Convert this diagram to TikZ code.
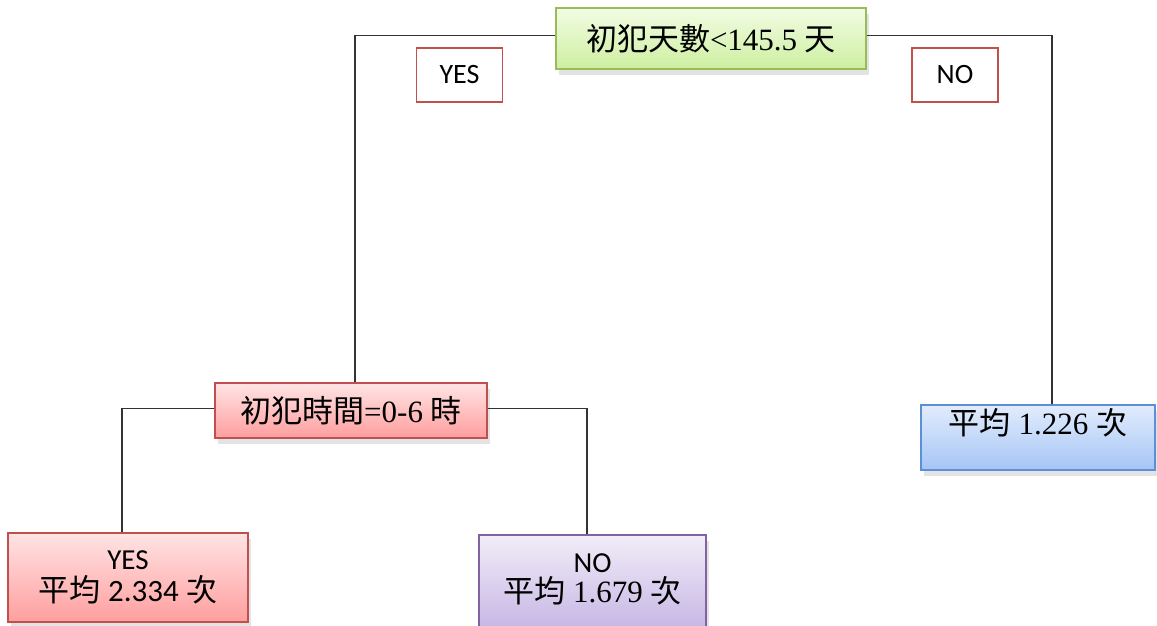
\documentclass[tikz,border=0pt]{standalone}
\usepackage{fontspec}
\setmainfont{Liberation Serif}
\newfontfamily\cjk{Noto Sans CJK TC}
\newfontfamily\calfont{Carlito}
\usetikzlibrary{shadows}
\definecolor{grnB}{HTML}{9BBB59}
\definecolor{grnT}{HTML}{F2FCE4}
\definecolor{grnL}{HTML}{CDEFA0}
\definecolor{redB}{HTML}{C0504D}
\definecolor{redT}{HTML}{FFE4E4}
\definecolor{redL}{HTML}{FF9E9E}
\definecolor{bluB}{HTML}{5B8FD6}
\definecolor{bluT}{HTML}{E2ECFC}
\definecolor{bluL}{HTML}{A5C5F6}
\definecolor{purB}{HTML}{8064A2}
\definecolor{purT}{HTML}{F1EDF8}
\definecolor{purL}{HTML}{C6B6E4}
\definecolor{lineC}{HTML}{333333}
\tikzset{
  box/.style={draw, line width=1.5pt, inner sep=0pt, align=center,
    font=\fontsize{31}{34}\selectfont,
    drop shadow={opacity=.22, shadow xshift=3pt, shadow yshift=-6pt}},
  grnbox/.style={box, draw=grnB, top color=grnT, bottom color=grnL},
  redbox/.style={box, draw=redB, top color=redT, bottom color=redL},
  blubox/.style={box, draw=bluB, top color=bluT, bottom color=bluL},
  purbox/.style={box, draw=purB, top color=purT, bottom color=purL},
  lbl/.style={draw=redB, line width=1.5pt, fill=white, inner sep=0pt,
    minimum width=86pt, minimum height=54pt,
    font=\calfont\fontsize{28}{30}\selectfont},
  conn/.style={draw=lineC, line width=1.3pt}
}
\begin{document}
\begin{tikzpicture}[x=1pt,y=-1pt]
\clip (0,0) rectangle (1157,626);
\fill[white] (0,0) rectangle (1157,626);
% nodes
\node[grnbox, minimum width=310pt, minimum height=61pt] (root) at (711,38.5)
  {{\cjk 初犯天數}<145.5 {\cjk 天}};
\node[redbox, minimum width=272pt, minimum height=55pt] (n2) at (351,410.5)
  {{\cjk 初犯時間}=0-6 {\cjk 時}};
\node[blubox, minimum width=234pt, minimum height=65pt] (r) at (1038,437.5)
  {{\cjk 平均} 1.226 {\cjk 次}\\[-12pt]\strut};
\node[redbox, minimum width=240pt, minimum height=89pt] (ly) at (128,577.5)
  {{\calfont\fontsize{29}{30}\selectfont YES}\\[-2pt]{\cjk 平均} {\calfont 2.334} {\cjk 次}};
\node[purbox, minimum width=227pt, minimum height=95pt] (ln) at (592.5,582.5)
  {{\calfont\fontsize{29}{30}\selectfont NO}\\[-4pt]{\cjk 平均} 1.679 {\cjk 次}\\[-36pt]\strut};
\node[lbl] (yes) at (459.5,75) {YES};
\node[lbl] (no) at (955,75) {NO};
% connectors
\draw[conn] ([yshift=3pt]root.west) -| ([xshift=4pt]n2.north);
\draw[conn] ([yshift=3pt]root.east) -| ([xshift=14pt]r.north);
\draw[conn] ([yshift=2pt]n2.west) -| ([xshift=-6pt]ly.north);
\draw[conn] ([yshift=2pt]n2.east) -| ([xshift=-5.5pt]ln.north);
\end{tikzpicture}
\end{document}
